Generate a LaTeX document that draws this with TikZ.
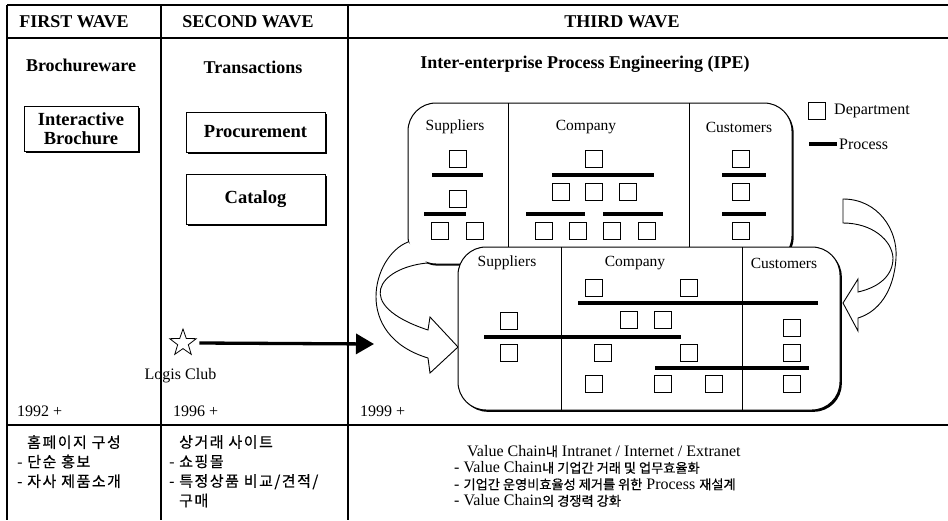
\documentclass[tikz,border=0pt]{standalone}
\usepackage{fontspec}
\setmainfont{Liberation Serif}
\newfontfamily\krfont[FakeBold=0.5]{Noto Sans CJK KR}
\newfontfamily\krwide[FakeBold=0.5,LetterSpace=10]{Noto Sans CJK KR}
\usetikzlibrary{arrows.meta,shapes.geometric,shadows}
\newcommand{\ko}[1]{{\krfont\fontsize{13.2}{16.5}\selectfont #1}}
\begin{document}
\begin{tikzpicture}[x=1pt,y=-1pt,
  frameline/.style={line width=1.2pt},
  hdr/.style={font=\fontsize{18}{20}\selectfont\bfseries, inner sep=0pt},
  ttl/.style={font=\fontsize{18}{20}\selectfont\bfseries, inner sep=0pt},
  bx/.style={draw, line width=1pt, fill=white, font=\fontsize{18.5}{20}\selectfont\bfseries, align=center, inner sep=0pt,
     drop shadow={shadow xshift=1.6pt, shadow yshift=-1.6pt, fill=black, opacity=1}},
  dept/.style={draw, line width=0.9pt, minimum size=16.5pt, inner sep=0pt, fill=white},
  proc/.style={line width=3.2pt},
  lab/.style={font=\fontsize{15.5}{17}\selectfont, inner sep=0pt},
  yr/.style={font=\fontsize{16}{18}\selectfont, anchor=west, inner sep=0pt},
  ktxt/.style={font=\krwide\fontsize{15}{19.5}\selectfont, align=left, anchor=north west, inner sep=0pt},
  rib/.style={line width=0.9pt, line join=miter},
  panel/.style={line width=1pt, fill=white, rounded corners=28pt},
  pshadow/.style={fill=black, rounded corners=28pt}]
\useasboundingbox (0,0) rectangle (948,520);

% table frame
\draw[frameline] (7,5) -- (948,5);
\draw[frameline] (7,38) -- (948,38);
\draw[frameline] (7,425) -- (948,425);
\draw[frameline] (7,5) -- (7,520);
\draw[frameline] (161,5) -- (161,520);
\draw[frameline] (348,5) -- (348,520);

% headers
\node[hdr] (h1) at (74,22) {FIRST WAVE};
\node[hdr] (h2) at (248,22) {SECOND WAVE};
\node[hdr] (h3) at (622,22) {THIRD WAVE};

\node[ttl] (t1) at (81,65) {Brochureware};
\node[ttl] (t2) at (253,67) {Transactions};
\node[ttl] (t3) at (585,64) {Inter-enterprise Process Engineering (IPE)};

% boxes of first/second wave
\node[bx, minimum width=114pt, minimum height=45pt] (ib) at (81,128.5) {Interactive\\[-1pt]Brochure};
\node[bx, minimum width=139pt, minimum height=40pt] (pr) at (255.5,132) {Procurement};
\node[bx, minimum width=139pt, minimum height=50pt] (ca) at (255.5,199) {Catalog};

% Logis Club star and arrow
\node[star, star points=5, star point ratio=2.5, draw, line width=0.8pt, minimum size=28pt, inner sep=0pt] (lc) at (183,343) {};
\node[lab, font=\fontsize{16}{18}\selectfont] (lcl) at (180.5,376) {Logis Club};
\coordinate (ipein) at (374,344);
\draw[line width=3.3pt, -{Triangle[length=18pt,width=20pt]}] ([xshift=8pt]lc.east) -- (ipein);

% years
\node[yr] (y1) at (17,411) {1992 +};
\node[yr] (y2) at (173,411) {1996 +};
\node[yr] (y3) at (360,411) {1999 +};

% legend
\node[dept] (lgsq) at (817,111) {};
\node[lab, anchor=west, font=\fontsize{16}{18}\selectfont] (lgd) at (834,111) {Department};
\draw[proc] (809,144) -- (837,144);
\node[lab, anchor=west, font=\fontsize{16}{18}\selectfont] (lgp) at (839,144) {Process};

% ---------- upper panel (as-is) ----------
\fill[pshadow] (409.6,104.6) rectangle (793.6,265.6);
\draw[panel] (408,103) rectangle (792,264);
\draw[line width=1pt] (508,103) -- (508,264);
\draw[line width=1pt] (689,103) -- (689,264);
\node[lab] (us) at (455,127) {Suppliers};
\node[lab] (uc) at (586,127) {Company};
\node[lab] (uk) at (739,127) {Customers};
\foreach[count=\i] \p in {(458,159),(458,199),(440,231),(475,231),
  (594,159),(561,192),(594,192),(628,192),(544,231),(578,231),(612,231),(647,231),
  (741,159),(741,192),(741,231)}
  \node[dept] (u\i) at \p {};
\draw[proc] (432,175) -- (483,175);
\draw[proc] (424,214) -- (466,214);
\draw[proc] (552,175) -- (654,175);
\draw[proc] (526,214) -- (585,214);
\draw[proc] (603,214) -- (663,214);
\draw[proc] (722,175) -- (766,175);
\draw[proc] (722,214) -- (766,214);

% ---------- ribbon arrows ----------
\draw[rib, fill=white] (408,242) .. controls (372,256) and (352,335) .. (428,358)
   -- (430,373) -- (458,347) -- (430,317) -- (428,330)
   .. controls (352,305) and (378,268) .. (427,263);
\draw[rib] (843,199) .. controls (878,199) and (898,230) .. (896,258)
   .. controls (894,292) and (878,312) .. (858,318)
   -- (858,331) -- (843,303) -- (858,279) -- (858,292)
   .. controls (880,287) and (893,275) .. (893,258)
   .. controls (892,240) and (872,223) .. (843,223) -- cycle;

% ---------- lower panel (to-be) ----------
\fill[pshadow] (459.8,248.8) rectangle (841.8,411.8);
\draw[panel] (458,247) rectangle (840,410);
\draw[line width=1pt] (561,247) -- (561,410);
\draw[line width=1pt] (742,247) -- (742,410);
\node[lab] (ls) at (507,263) {Suppliers};
\node[lab] (lcmp) at (635,263) {Company};
\node[lab] (lk) at (784,263) {Customers};
\foreach[count=\i] \p in {(594,288),(689,288),
  (509,321),(629,320),(663,320),
  (509,353),(603,353),(689,353),
  (792,328),(792,353),(792,384),
  (594,384),(663,384),(714,384)}
  \node[dept] (l\i) at \p {};
\draw[proc] (578,303) -- (818,303);
\draw[proc] (484,337) -- (681,337);
\draw[proc] (655,368) -- (809,368);

% ---------- bottom row texts ----------
\node[ktxt] (k1) at (17,435) {\hspace{10pt}홈페이지 구성\\- 단순 홍보\\- 자사 제품소개};
\node[ktxt] (k2) at (169,435) {\hspace{10pt}상거래 사이트\\- 쇼핑몰\\- 특정상품 비교/견적/\\\hspace{10pt}구매};
\node[anchor=north west, inner sep=0pt, align=left, font=\fontsize{16}{16.5}\selectfont] (k3) at (454,445)
 {\hspace{13pt}Value Chain\ko{내} Intranet / Internet / Extranet\\
  - Value Chain\ko{내 기업간 거래 및 업무효율화}\\
  - \ko{기업간 운영비효율성 제거를 위한} Process \ko{재설계}\\
  - Value Chain\ko{의 경쟁력 강화}};
\end{tikzpicture}
\end{document}
